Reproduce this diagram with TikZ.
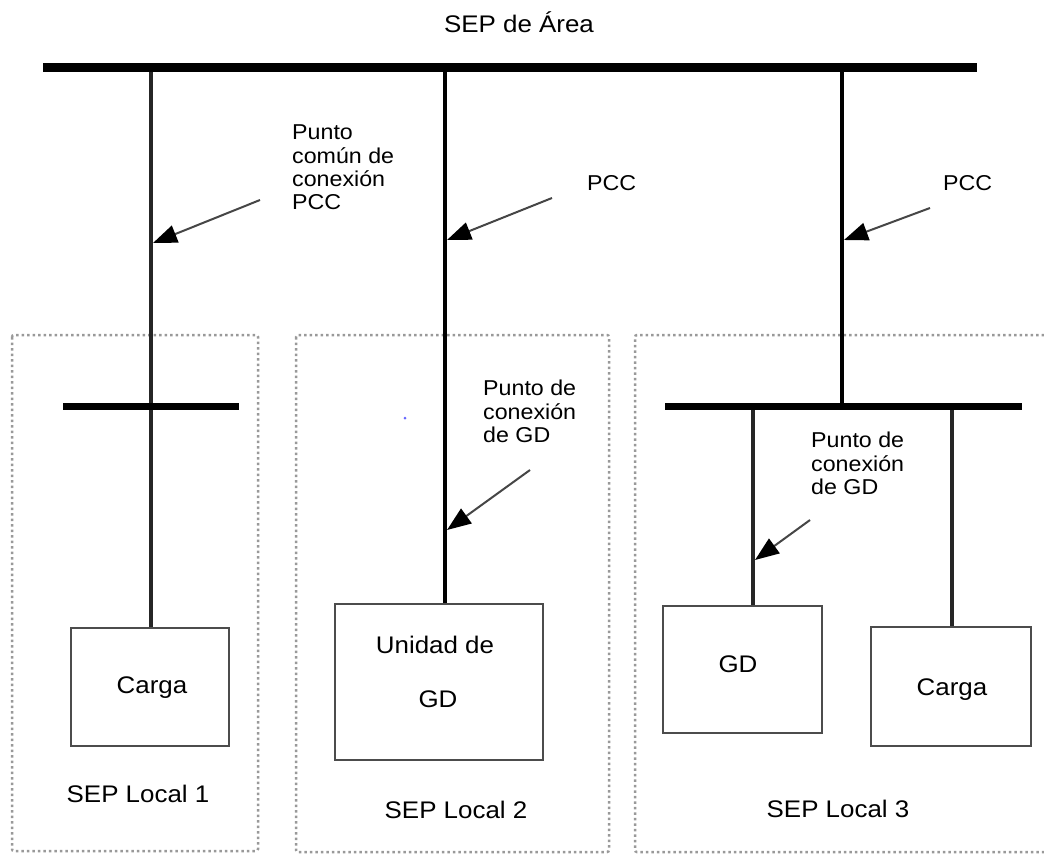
\documentclass[tikz,border=0pt]{standalone}
\usepackage{fontspec}
\setmainfont[FakeStretch=1.08]{Liberation Sans}
\usetikzlibrary{arrows.meta}
\begin{document}
\begin{tikzpicture}[x=1pt,y=-1pt,
  mainbus/.style={line width=9pt,black},
  localbus/.style={line width=7pt,black},
  feeder/.style={line width=3.5pt,black!85},
  region/.style={draw=gray!80,line width=2.5pt,dash pattern=on 2.5pt off 3pt},
  loadbox/.style={draw=black!70,line width=2.5pt,inner sep=0pt,fill=white},
  pointer/.style={draw=gray!55!black,line width=2pt,-{Triangle[length=24pt,width=18pt,color=black]}},
  bigtxt/.style={font=\fontsize{24}{28}\selectfont,inner sep=0pt},
  lbltxt/.style={font=\fontsize{21.5}{23.3}\selectfont,inner sep=0pt,align=left}]
\useasboundingbox (0,0) rectangle (1044,854);

% regions (dotted)
\draw[region,rounded corners=2pt] (12,335) rectangle (258,851);
\draw[region,rounded corners=2pt] (296,335) rectangle (609,852);
\draw[region,rounded corners=2pt] (1044,335) -- (635,335) -- (635,852) -- (1044,852);

% stray dot
\fill[blue!60] (405,418) circle (1.5pt);

% title
\node[bigtxt,anchor=base] (title) at (519,32) {SEP de Área};

% bus coordinates
\coordinate (mbL) at (43,67);
\coordinate (mbR) at (977,67);
\coordinate (t1) at (151,67);
\coordinate (t2) at (445,67);
\coordinate (t3) at (842,67);
\coordinate (b1L) at (63,406);
\coordinate (b1R) at (239,406);
\coordinate (b3L) at (665,406);
\coordinate (b3R) at (1022,406);
\coordinate (j3) at (842,406);
\coordinate (j3a) at (753,406);
\coordinate (j3b) at (952,406);

% boxes
\node[loadbox,minimum width=158pt,minimum height=118pt] (carga1) at (150,687) {};
\node[loadbox,minimum width=208pt,minimum height=156pt] (unidad) at (439,682) {};
\node[loadbox,minimum width=159pt,minimum height=127pt] (gd) at (742.5,669.5) {};
\node[loadbox,minimum width=160pt,minimum height=119pt] (carga3) at (951,686.5) {};

% feeders
\draw[feeder] (t1) -- (t1 |- carga1.north);
\draw[feeder,line width=4.5pt,black] (t2) -- (t2 |- unidad.north);
\draw[feeder,line width=4pt,black] (t3) -- (j3);
\draw[feeder] (j3a) -- (j3a |- gd.north);
\draw[feeder] (j3b) -- (j3b |- carga3.north);

% buses
\draw[mainbus] (mbL) -- (mbR);
\draw[localbus] (b1L) -- (b1R);
\draw[localbus] (b3L) -- (b3R);

% box texts
\node[bigtxt,anchor=base] (cargatxt1) at (152,693) {Carga};
\node[bigtxt,anchor=base] (unidadtxt) at (435,653) {Unidad de};
\node[bigtxt,anchor=base] (unidadgd) at (438,707) {GD};
\node[bigtxt,anchor=base] (gdtxt) at (738,672) {GD};
\node[bigtxt,anchor=base] (cargatxt3) at (952,695) {Carga};

% region names
\node[bigtxt,anchor=base] (sep1) at (138,802) {SEP Local 1};
\node[bigtxt,anchor=base] (sep2) at (456,818) {SEP Local 2};
\node[bigtxt,anchor=base] (sep3) at (838,817) {SEP Local 3};

% labels
\node[lbltxt,anchor=north west] (lbl1) at (292,125) {Punto\\común de\\conexión\\PCC};
\node[lbltxt,anchor=base west] (pcc2) at (587,190) {PCC};
\node[lbltxt,anchor=base west] (pcc3) at (943,190) {PCC};
\node[lbltxt,anchor=north west] (lbl2) at (483,380) {Punto de\\conexión\\de GD};
\node[lbltxt,anchor=north west] (lbl3) at (811,432) {Punto de\\conexión\\de GD};

% pointer arrows
\coordinate (a1s) at (260,200); \coordinate (a1e) at (153,243);
\coordinate (a2s) at (552,198); \coordinate (a2e) at (447,240);
\coordinate (a3s) at (930,208); \coordinate (a3e) at (844,240);
\coordinate (a4s) at (530,470); \coordinate (a4e) at (447,530);
\coordinate (a5s) at (810,520); \coordinate (a5e) at (755,560);
\draw[pointer] (a1s) -- (a1e);
\draw[pointer] (a2s) -- (a2e);
\draw[pointer] (a3s) -- (a3e);
\draw[pointer] (a4s) -- (a4e);
\draw[pointer] (a5s) -- (a5e);
\end{tikzpicture}
\end{document}
